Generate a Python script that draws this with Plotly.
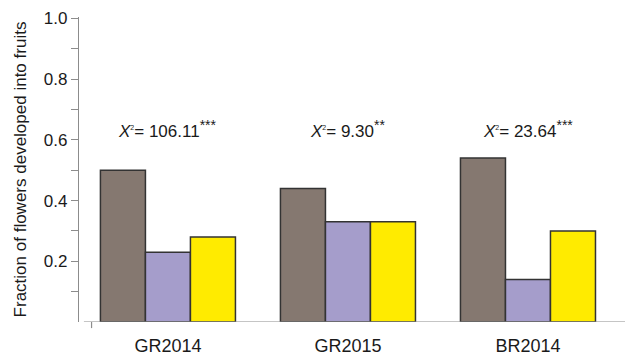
import plotly.graph_objects as go

# Fraction of flowers that developed into fruits, by site/year and treatment
sites = ["GR2014", "GR2015", "BR2014"]
treatment_a = [0.50, 0.44, 0.54]
treatment_b = [0.23, 0.33, 0.14]
treatment_c = [0.28, 0.33, 0.30]
chi_sq = ["106.11", "9.30", "23.64"]
signif = ["***", "**", "***"]

y_ticks = [0.1, 0.2, 0.3, 0.4, 0.5, 0.6, 0.7, 0.8, 0.9, 1.0]
y_tick_text = ["", "0.2", "", "0.4", "", "0.6", "", "0.8", "", "1.0"]

colors = ["#857870", "#A59DCB", "#FFEB00"]
edge = dict(color="#333333", width=1.5)

fig = go.Figure()
for vals, col in zip([treatment_a, treatment_b, treatment_c], colors):
    fig.add_trace(go.Bar(x=sites, y=vals, marker=dict(color=col, line=edge),
                         showlegend=False))

for s, c, p in zip(sites, chi_sq, signif):
    fig.add_annotation(
        x=s, y=0.636, xref="x", yref="y", showarrow=False,
        text=(f"<i>X</i><sup><span style='font-size:7px'>2</span></sup>= {c}"
              f"<sup><span style='font-size:14px'>{p}</span></sup>"),
        font=dict(family="Liberation Sans, Arial", size=17, color="#1a1a1a"),
    )

# detached baseline with a small tick below its left end
fig.add_shape(type="line", xref="paper", yref="y", x0=0.009, x1=1.0, y0=0, y1=0,
              line=dict(color="#8c8c8c", width=1.2))
fig.add_shape(type="line", xref="paper", yref="paper", x0=0.023, x1=0.023,
              y0=0, y1=-0.02, line=dict(color="#8c8c8c", width=1.2))

fig.update_layout(
    width=625, height=358,
    margin=dict(l=79, r=0, t=17, b=36),
    paper_bgcolor="white", plot_bgcolor="white",
    barmode="group", bargap=0.25, bargroupgap=0,
    font=dict(family="Liberation Sans, Arial", color="#1a1a1a"),
    xaxis=dict(type="category", range=[-0.494, 2.539], showline=False,
               showgrid=False, zeroline=False, ticks="outside", ticklen=7,
               tickcolor="rgba(0,0,0,0)", tickfont=dict(size=18)),
    yaxis=dict(range=[0, 1.005], showline=True, linecolor="#8c8c8c", linewidth=1.2,
               showgrid=False, zeroline=False, ticks="outside", ticklen=7,
               tickcolor="#8c8c8c", tickvals=y_ticks, ticktext=y_tick_text,
               tickfont=dict(size=17),
               title=dict(text="Fraction of flowers developed into fruits",
                          font=dict(size=17), standoff=12)),
)

fig.write_html("out.html")
